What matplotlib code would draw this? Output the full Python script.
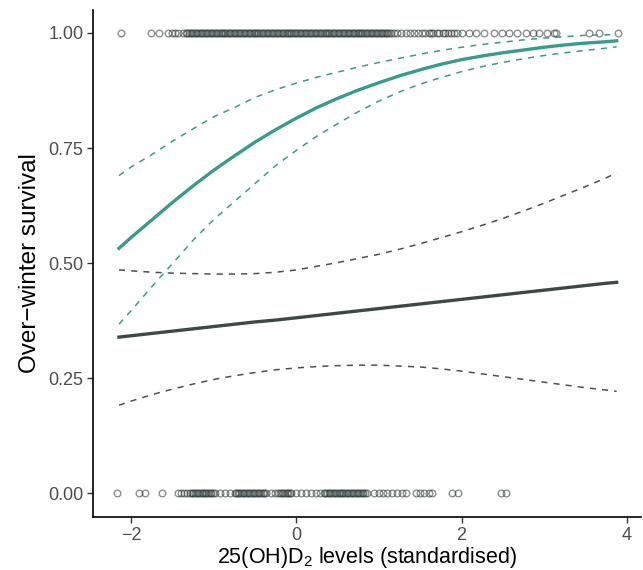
import matplotlib
matplotlib.use("Agg")
from matplotlib import pyplot as plt

plt.rcParams['font.family'] = ['Liberation Sans', 'DejaVu Sans']
plt.rcParams['mathtext.default'] = 'regular'

# fitted curves
grid_x = [-2.15, -2.0, -1.75, -1.5, -1.25, -1.0, -0.75, -0.5, -0.25, 0.0, 0.25, 0.5, 0.75,
          1.0, 1.25, 1.5, 1.75, 2.0, 2.25, 2.5, 2.75, 3.0, 3.25, 3.5, 3.75, 3.88]

teal_fit = [0.532, 0.556, 0.594, 0.632, 0.668, 0.702, 0.733, 0.763, 0.790, 0.815, 0.838, 0.858, 0.876,
            0.892, 0.907, 0.920, 0.932, 0.942, 0.950, 0.957, 0.963, 0.969, 0.974, 0.978, 0.981, 0.983]
teal_hi = [0.690, 0.709, 0.736, 0.765, 0.792, 0.818, 0.838, 0.860, 0.877, 0.891, 0.904, 0.915, 0.926,
           0.936, 0.945, 0.954, 0.962, 0.969, 0.975, 0.980, 0.985, 0.989, 0.992, 0.995, 0.996, 0.997]
teal_lo = [0.367, 0.397, 0.449, 0.499, 0.550, 0.595, 0.634, 0.673, 0.712, 0.745, 0.776, 0.803, 0.829,
           0.852, 0.872, 0.889, 0.903, 0.916, 0.927, 0.936, 0.944, 0.951, 0.957, 0.962, 0.967, 0.970]

grey_fit = [0.339, 0.342, 0.347, 0.352, 0.357, 0.362, 0.367, 0.372, 0.376, 0.381, 0.386, 0.391, 0.396,
            0.401, 0.406, 0.411, 0.416, 0.421, 0.426, 0.431, 0.436, 0.441, 0.446, 0.451, 0.456, 0.458]
grey_hi = [0.485, 0.483, 0.480, 0.478, 0.477, 0.476, 0.476, 0.477, 0.480, 0.485, 0.493, 0.501, 0.510,
           0.519, 0.530, 0.542, 0.555, 0.568, 0.582, 0.597, 0.613, 0.630, 0.648, 0.666, 0.685, 0.696]
grey_lo = [0.191, 0.200, 0.214, 0.226, 0.237, 0.247, 0.255, 0.262, 0.268, 0.272, 0.275, 0.277, 0.278,
           0.278, 0.276, 0.274, 0.270, 0.265, 0.259, 0.253, 0.247, 0.241, 0.235, 0.229, 0.224, 0.221]

# individual observations: survived (1) / died (0)
survived_x = [-2.12, -1.76, -1.66, -1.56, -1.51, -1.47, -1.43, -1.38,
              -1.34, -1.32, -1.30, -1.28, -1.26, -1.24, -1.22, -1.20, -1.18, -1.16,
              -1.14, -1.12, -1.10, -1.08, -1.06, -1.04, -1.02, -1.00, -0.98, -0.96,
              -0.94, -0.92, -0.90, -0.88, -0.86, -0.84, -0.82, -0.80, -0.78, -0.76,
              -0.74, -0.72, -0.70, -0.68, -0.66, -0.64, -0.62, -0.60, -0.58, -0.56,
              -0.54, -0.52, -0.50, -0.48, -0.46, -0.44, -0.42, -0.40, -0.38, -0.36,
              -0.34, -0.32, -0.30, -0.28, -0.26, -0.24, -0.22, -0.20, -0.18, -0.16,
              -0.14, -0.12, -0.10, -0.08, -0.06, -0.04, -0.02, 0.00, 0.02, 0.04,
              0.06, 0.08, 0.10, 0.12, 0.14, 0.16, 0.18, 0.20, 0.22, 0.24,
              0.26, 0.28, 0.30, 0.32, 0.34, 0.36, 0.38, 0.40, 0.42, 0.44,
              0.46, 0.48, 0.50, 0.52, 0.54, 0.56, 0.58, 0.60, 0.62, 0.64,
              0.66, 0.68, 0.70, 0.72, 0.74, 0.76, 0.78, 0.80, 0.82, 0.84,
              0.86, 0.88, 0.90, 0.92, 0.94, 0.96, 0.98, 1.00, 1.02, 1.04,
              1.06, 1.08, 1.10, 1.12, 1.14, 1.18, 1.22, 1.27, 1.33, 1.38, 1.42,
              1.47, 1.52, 1.56, 1.60, 1.63, 1.66, 1.70, 1.73, 1.77, 1.80,
              1.84, 1.87, 1.91, 1.95, 2.00, 2.09, 2.18, 2.27, 2.39, 2.49,
              2.57, 2.67, 2.78, 2.86, 2.94, 3.03, 3.12, 3.15, 3.54, 3.66, 3.90]
died_x = [-2.18, -1.91, -1.84, -1.63, -1.44, -1.40, -1.36, -1.32,
          -1.29, -1.27, -1.25, -1.23, -1.21, -1.19, -1.17, -1.15, -1.13, -1.11,
          -1.09, -1.07, -1.05, -1.03, -1.01, -0.99,
          -0.93, -0.86, -0.80,
          -0.75, -0.73, -0.71, -0.69, -0.67, -0.65, -0.63, -0.61, -0.59, -0.57,
          -0.55, -0.53, -0.51, -0.49, -0.47, -0.45, -0.43, -0.41, -0.39, -0.37,
          -0.31, -0.26,
          -0.22, -0.20, -0.18, -0.16, -0.14, -0.12, -0.10, -0.08, -0.06,
          0.00, 0.05, 0.12, 0.18, 0.24, 0.29,
          0.33, 0.35, 0.37, 0.39, 0.41, 0.43, 0.45, 0.47, 0.49, 0.51, 0.53, 0.55,
          0.57, 0.59, 0.61, 0.63, 0.65, 0.67, 0.69, 0.71, 0.73, 0.75, 0.77, 0.79,
          0.81, 0.83, 0.85,
          0.94, 1.00, 1.05, 1.10, 1.16, 1.22, 1.28, 1.33,
          1.45, 1.50, 1.55, 1.60, 1.64, 1.89, 1.96, 2.48, 2.54]

teal = '#3b9a8b'
grey = '#3f4848'

fig = plt.figure(figsize=(6.43, 5.70), dpi=100)
ax = fig.add_axes([0.1446, 0.093, 0.853, 0.8895])

ax.plot(survived_x, [1] * len(survived_x), 'o', ms=4.8, mfc='none', mec='#2a3535',
        mew=1.0, alpha=0.55)
ax.plot(died_x, [0] * len(died_x), 'o', ms=4.8, mfc='none', mec='#2a3535',
        mew=1.0, alpha=0.55)

ax.plot(grid_x, grey_hi, c=grey, lw=1.1, ls=(0, (4, 4)), alpha=0.95)
ax.plot(grid_x, grey_lo, c=grey, lw=1.1, ls=(0, (4, 4)), alpha=0.95)
ax.plot(grid_x, grey_fit, c=grey, lw=2.4)

ax.plot(grid_x, teal_hi, c=teal, lw=1.1, ls=(0, (4, 4)))
ax.plot(grid_x, teal_lo, c=teal, lw=1.1, ls=(0, (4, 4)))
ax.plot(grid_x, teal_fit, c=teal, lw=2.4)

ax.set_xlim(-2.465, 4.18)
ax.set_ylim(-0.052, 1.05)
ax.set_xticks([-2, 0, 2, 4])
ax.set_yticks([0, 0.25, 0.5, 0.75, 1.0])
ax.set_yticklabels(['0.00', '0.25', '0.50', '0.75', '1.00'])

for side in ['top', 'right']:
    ax.spines[side].set_visible(False)
for side in ['left', 'bottom']:
    ax.spines[side].set_linewidth(1.2)
    ax.spines[side].set_color('black')
ax.tick_params(axis='both', labelsize=13, labelcolor='#4d4d4d', length=4,
               width=1, color='#333333', pad=3)

ax.set_xlabel('25(OH)D$_2$ levels (standardised)', fontsize=15.5, labelpad=1)
ax.set_ylabel('Over\u2212winter survival', fontsize=17.5, labelpad=5)

plt.savefig('out.png', dpi=100)
